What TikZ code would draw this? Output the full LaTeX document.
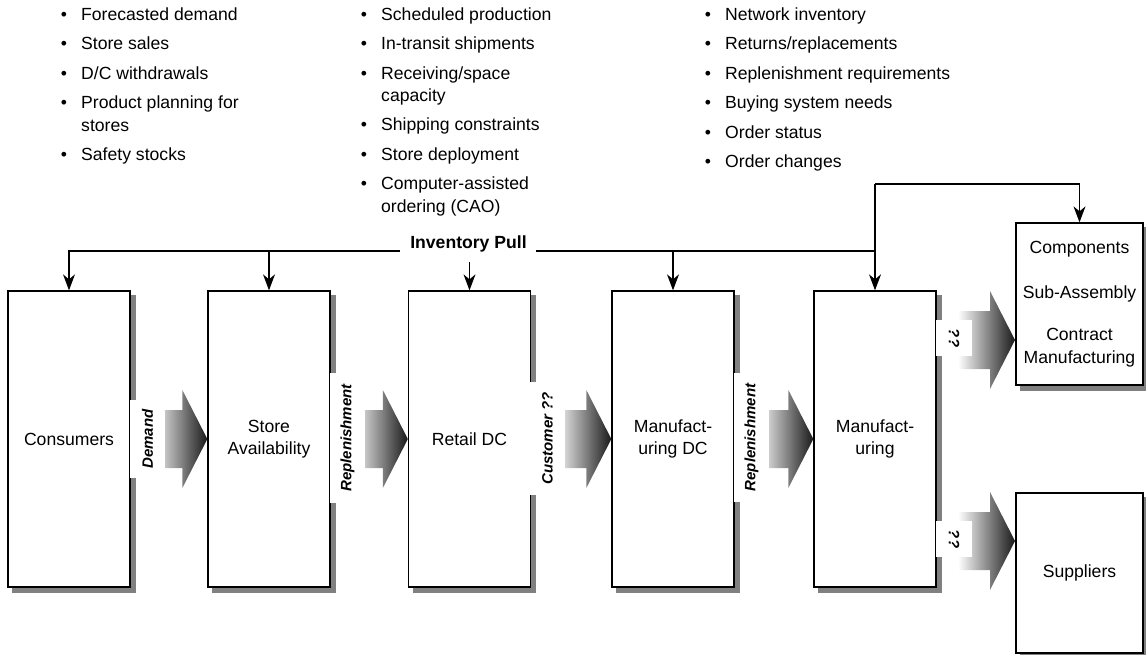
\documentclass[tikz,border=0pt]{standalone}
\usepackage{fontspec}
\setmainfont{Liberation Sans}
\usetikzlibrary{arrows.meta,calc,backgrounds}
\tikzset{
  every node/.style={font=\fontsize{17.6}{22.5}\selectfont},
  box/.style={draw, line width=1.3pt, fill=white, align=center, inner sep=0pt,
    minimum width=122pt, minimum height=296pt},
  sidebox/.style={box, minimum width=127pt},
  shadowfill/.style={fill=black!50},
  lab/.style={fill=white, inner sep=0pt, minimum height=35pt,
    font=\fontsize{15}{18}\selectfont\bfseries\itshape},
  item/.style={anchor=base west, inner sep=0pt},
  bul/.style={anchor=base, inner sep=0pt},
  pull/.style={line width=1.2pt, -{Stealth[length=16pt,width=12pt,inset=5pt]}},
  pline/.style={line width=1.2pt},
}
\newcommand\flowarrow[1]{%
  \shade[left color=white, right color=black!90]
    ($(#1)+(-57,-29)$) -- ($(#1)+(-25,-29)$) -- ($(#1)+(-25,-49)$) -- (#1)
    -- ($(#1)+(-25,49)$) -- ($(#1)+(-25,29)$) -- ($(#1)+(-57,29)$) -- cycle;}
\newcommand\boxshadow[1]{%
  \fill[shadowfill] ($(#1.north west)+(5,5)$) rectangle ($(#1.south east)+(5,5)$);}
\begin{document}
\begin{tikzpicture}[x=1pt,y=-1pt]
\useasboundingbox (0,0) rectangle (1146,655);

% ---------- bullet lists ----------
\node[bul] (b11) at (64,21) {•};  \node[item] (t11) at (81,21) {Forecasted demand};
\node[bul] (b12) at (64,50) {•};  \node[item] (t12) at (81,50) {Store sales};
\node[bul] (b13) at (64,80) {•};  \node[item] (t13) at (81,80) {D/C withdrawals};
\node[bul] (b14) at (64,109) {•}; \node[item] (t14) at (81,109) {Product planning for};
\node[item] (t14b) at (81,132) {stores};
\node[bul] (b15) at (64,161) {•}; \node[item] (t15) at (81,161) {Safety stocks};

\node[bul] (b21) at (364,21) {•};  \node[item] (t21) at (381,21) {Scheduled production};
\node[bul] (b22) at (364,50) {•};  \node[item] (t22) at (381,50) {In-transit shipments};
\node[bul] (b23) at (364,80) {•};  \node[item] (t23) at (381,80) {Receiving/space};
\node[item] (t23b) at (381,102) {capacity};
\node[bul] (b24) at (364,131) {•}; \node[item] (t24) at (381,131) {Shipping constraints};
\node[bul] (b25) at (364,161) {•}; \node[item] (t25) at (381,161) {Store deployment};
\node[bul] (b26) at (364,190) {•}; \node[item] (t26) at (381,190) {Computer-assisted};
\node[item] (t26b) at (381,213) {ordering (CAO)};

\node[bul] (b31) at (708,21) {•};  \node[item] (t31) at (725,21) {Network inventory};
\node[bul] (b32) at (708,50) {•};  \node[item] (t32) at (725,50) {Returns/replacements};
\node[bul] (b33) at (708,80) {•};  \node[item] (t33) at (725,80) {Replenishment requirements};
\node[bul] (b34) at (708,109) {•}; \node[item] (t34) at (725,109) {Buying system needs};
\node[bul] (b35) at (708,139) {•}; \node[item] (t35) at (725,139) {Order status};
\node[bul] (b36) at (708,168) {•}; \node[item] (t36) at (725,168) {Order changes};

% ---------- boxes ----------
\node[box] (cons)  at (69,439)    {Consumers};
\node[box] (store) at (269,439)   {Store\\Availability};
\node[box] (rdc)   at (469.5,439) {Retail DC};
\node[box] (mdc)   at (673,439)   {Manufact-\\uring DC};
\node[box] (mfg)   at (875,439)   {Manufact-\\uring};
\node[sidebox, minimum height=162pt] (comp) at (1079.5,304)
  {Components\\[22.5pt]Sub-Assembly\\[19.5pt]Contract\\Manufacturing};
\node[sidebox, minimum height=160pt] (supp) at (1079.5,573) {Suppliers};

\begin{scope}[on background layer]
  \boxshadow{cons}
  \boxshadow{store}
  \boxshadow{rdc}
  \boxshadow{mdc}
  \boxshadow{mfg}
  \boxshadow{comp}
  \boxshadow{supp}
\end{scope}

% ---------- inventory pull ----------
\node[font=\fontsize{17.6}{22.5}\selectfont\bfseries] (ipull) at (468.5,244) {Inventory Pull};
\coordinate (gl) at (400,251);
\coordinate (gr) at (536,251);
\coordinate (rdcs) at (469.5,262);
\coordinate (topc) at (875,184);
\draw[pull] (gl) -| (cons.north);
\draw[pull] (store.north |- gl) -- (store.north);
\draw[pull] (rdcs) -- (rdc.north);
\draw[pline] (gr) -- (mfg.north |- gr);
\draw[pull] (mdc.north |- gr) -- (mdc.north);
\draw[pull] (topc) -- (mfg.north);
\draw[pull] (topc) -| (comp.north);

% ---------- block arrows ----------
\coordinate (tipA) at (store.west);
\coordinate (tipB) at (rdc.west);
\coordinate (tipC) at (mdc.west);
\coordinate (tipD) at (mfg.west);
\coordinate (tipE) at (1015,340);
\coordinate (tipF) at (1015,541);
\flowarrow{tipA}
\flowarrow{tipB}
\flowarrow{tipC}
\flowarrow{tipD}
\flowarrow{tipE}
\flowarrow{tipF}

% ---------- arrow labels ----------
\node[lab, rotate=90, minimum width=78pt]  (lA) at (147.5,439) {Demand};
\node[lab, rotate=90, minimum width=130pt] (lB) at (347.5,438) {Replenishment};
\node[lab, rotate=90, minimum width=113pt] (lC) at (547.5,438.5) {Customer ??};
\node[lab, rotate=90, minimum width=129pt] (lD) at (751.5,437.5) {Replenishment};
\node[lab, rotate=-90, minimum width=36pt, minimum height=36pt] (lE) at (954,338) {??};
\node[lab, rotate=-90, minimum width=36pt, minimum height=36pt] (lF) at (954,539) {??};
\end{tikzpicture}
\end{document}
